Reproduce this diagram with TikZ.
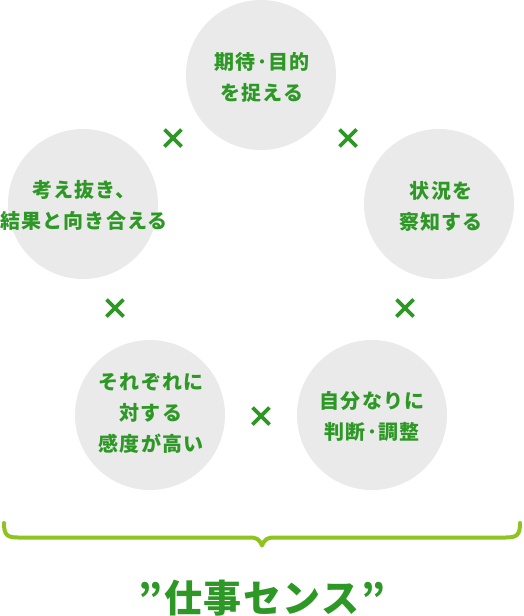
\documentclass[tikz,border=0pt]{standalone}
\usepackage{fontspec}
\newfontfamily\jp[LetterSpace=6]{Noto Sans CJK JP}
\newfontfamily\jpt[LetterSpace=4]{Noto Sans CJK JP}
\definecolor{txtgreen}{RGB}{46,152,38}
\definecolor{bracegreen}{RGB}{143,195,31}
\definecolor{circgray}{RGB}{234,234,234}
\begin{document}
\begin{tikzpicture}[x=1pt,y=-1pt,
  circ/.style={circle,fill=circgray,minimum size=150pt,inner sep=0pt},
  lbl/.style={text=txtgreen,font=\jp\bfseries\fontsize{20}{31}\selectfont,align=center,inner sep=0pt},
  cross/.style={draw=txtgreen,line width=3.6pt},
  xmark/.pic={\draw[cross] (-8.5,-8.5)--(8.5,8.5) (-8.5,8.5)--(8.5,-8.5);}]
\useasboundingbox (0,0) rectangle (524,616);
% circles
\node[circ] (c1) at (261,75) {};
\node[circ] (c2) at (83,204) {};
\node[circ] (c3) at (439,204) {};
\node[circ] (c4) at (150,415) {};
\node[circ] (c5) at (372,415) {};
% labels
\node[lbl] (t1) at (262,77) {期待･目的\\を捉える};
\node[lbl] (t2) at (84,205) {考え抜き、\\結果と向き合える};
\node[lbl] (t3) at (441,206) {状況を\\察知する};
\node[lbl] (t4) at (151,413) {それぞれに\\対する\\感度が高い};
\node[lbl] (t5) at (372,416) {自分なりに\\判断･調整};
% crosses
\pic at (173,138) {xmark};
\pic at (348,138) {xmark};
\pic at (115,308) {xmark};
\pic at (405,308) {xmark};
\pic at (261,416) {xmark};
% brace
\draw[bracegreen,line width=4pt,line cap=round,line join=round]
  (4,523) .. controls (4,535) and (7,537.5) .. (18,537.5) -- (249,537.5)
  .. controls (257,537.5) and (259,539) .. (262,545.5)
  .. controls (265,539) and (267,537.5) .. (275,537.5) -- (506,537.5)
  .. controls (517,537.5) and (520,535) .. (520,523);
% title
\node[text=txtgreen,font=\jpt\bfseries\fontsize{38}{42}\selectfont,inner sep=0pt] (title) at (262,598) {”仕事センス”};
\end{tikzpicture}
\end{document}
